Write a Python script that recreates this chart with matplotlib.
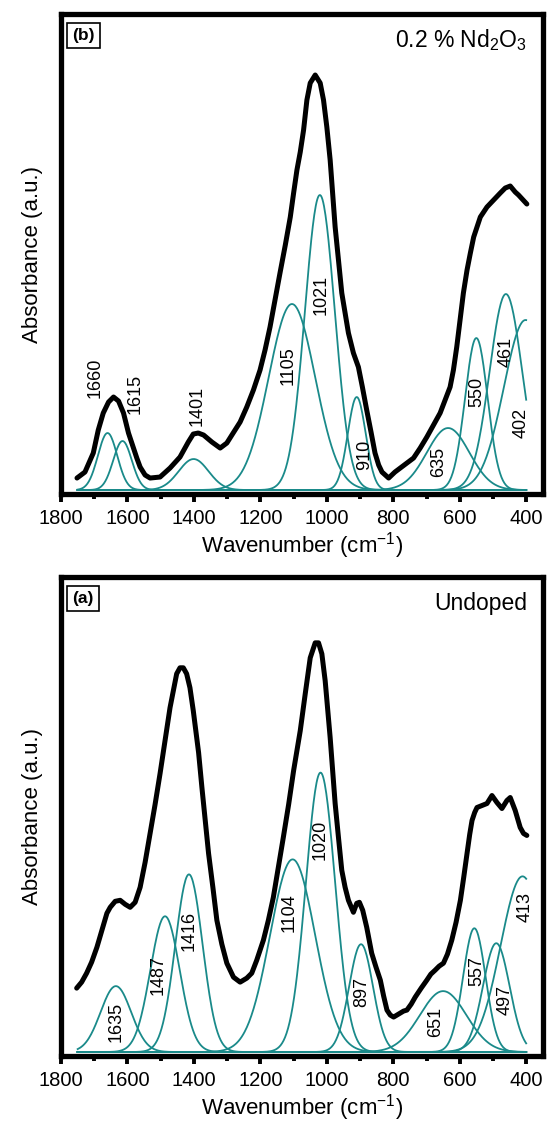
import matplotlib
matplotlib.use("Agg")
import matplotlib.pyplot as plt
from matplotlib.ticker import MultipleLocator
import numpy as np

plt.rcParams['font.family'] = ['Liberation Sans', 'DejaVu Sans']
plt.rcParams['mathtext.fontset'] = 'custom'
plt.rcParams['mathtext.rm'] = 'Liberation Sans'
plt.rcParams['mathtext.it'] = 'Liberation Sans:italic'

teal = "#1a8a8a"

# ---- panel (b): 0.2 % Nd2O3 ----
wn_b = [1752, 1728, 1703, 1688, 1673, 1657, 1642, 1627, 1612, 1597, 1587, 1572,
        1562, 1547, 1532, 1502, 1472, 1442, 1417, 1402, 1387, 1371, 1346, 1321,
        1301, 1282, 1261, 1241, 1221, 1201, 1186, 1171, 1156, 1141, 1125, 1110,
        1100, 1090, 1080, 1070, 1060, 1050, 1035, 1020, 1010, 1000, 990, 975,
        955, 935, 920, 905, 893, 880, 867, 855, 844, 834, 814, 795, 779, 759,
        739, 719, 699, 679, 659, 644, 629, 619, 609, 599, 589, 578, 568, 558,
        548, 538, 518, 498, 478, 463, 448, 433, 423, 398]
abs_b = [12, 18, 37, 60, 77, 88, 93, 89, 77, 57, 47, 32,
         23, 15, 12, 13, 22, 33, 48, 56, 57, 55, 48, 42,
         47, 57, 68, 83, 100, 120, 140, 163, 190, 217, 245, 273,
         297, 320, 338, 360, 390, 407, 415, 407, 390, 363, 330, 263,
         197, 157, 137, 123, 103, 80, 58, 37, 25, 18, 12, 18, 22, 27,
         32, 42, 53, 65, 77, 90, 103, 120, 143, 170, 197, 220, 237, 253,
         263, 273, 283, 290, 297, 302, 304, 298, 295, 286]

peak_pos_b = [1660, 1615, 1401, 1105, 1021, 910, 635, 550, 461, 402]
peak_h_b = [57, 49, 31, 186, 295, 93, 62, 152, 196, 170]
peak_w_b = [29, 28, 45, 70, 45, 27, 64, 34, 49, 65]
labels_b = ["1660", "1615", "1401", "1105", "1021", "910", "635", "550", "461", "402"]
label_x_b = [1698, 1576, 1390, 1116, 1017, 887, 665, 550, 460, 415]
label_y_b = [112, 96, 84, 124, 195, 35, 28, 98, 138, 67]

# ---- panel (a): undoped ----
wn_a = [1753, 1738, 1723, 1708, 1692, 1677, 1662, 1652, 1637, 1622, 1607, 1592,
        1577, 1562, 1547, 1532, 1517, 1502, 1487, 1472, 1462, 1452, 1442, 1432,
        1422, 1412, 1402, 1386, 1376, 1366, 1356, 1343, 1331, 1316, 1301, 1281,
        1261, 1241, 1226, 1211, 1191, 1176, 1161, 1146, 1131, 1115, 1100, 1080,
        1065, 1050, 1035, 1025, 1015, 1005, 990, 975, 965, 955, 945, 935, 920,
        910, 902, 892, 880, 865, 852, 839, 829, 819, 809, 799, 789, 779, 769,
        759, 746, 734, 716, 699, 687, 674, 662, 649, 637, 624, 611, 598, 588,
        578, 570, 563, 555, 548, 533, 518, 503, 488, 473, 458, 448, 433, 418,
        408, 398]
abs_a = [64, 70, 79, 90, 105, 122, 139, 145, 151, 152, 148, 145,
         150, 165, 190, 219, 248, 279, 312, 345, 362, 379, 385, 385,
         379, 365, 342, 300, 265, 232, 199, 165, 132, 108, 89, 75,
         70, 74, 79, 92, 112, 132, 155, 185, 215, 248, 282, 322,
         359, 395, 410, 410, 399, 372, 315, 249, 215, 182, 165, 152, 140,
         149, 150, 142, 125, 99, 85, 72, 56, 42, 37, 35, 37, 39, 41,
         42, 48, 55, 64, 72, 78, 82, 86, 89, 98, 112, 130, 152, 175,
         199, 218, 232, 240, 245, 247, 249, 257, 250, 244, 252, 255, 242, 225,
         219, 217]

peak_pos_a = [1635, 1487, 1415, 1103, 1019, 897, 650, 556, 490, 411]
peak_h_a = [66, 136, 178, 193, 280, 108, 61, 124, 109, 176]
peak_w_a = [46, 44, 41, 68, 44, 36, 70, 34, 40, 66]
labels_a = ["1635", "1487", "1416", "1104", "1020", "897", "651", "557", "497", "413"]
label_x_a = [1634, 1508, 1415, 1113, 1020, 894, 674, 550, 463, 404]
label_y_a = [30, 77, 121, 140, 213, 60, 30, 81, 52, 145]

fit_x = np.linspace(1750, 400, 600)


def draw_panel(ax, wn, absb, pos, h, w, labels, lx, ly, tag, title):
    for c, a, s in zip(pos, h, w):
        ax.plot(fit_x, a * np.exp(-(fit_x - c) ** 2 / (2 * s ** 2)), color=teal, lw=1.3)
    ax.plot(wn, absb, color="black", lw=3.6, solid_joinstyle="round", solid_capstyle="round")
    for t, x, y in zip(labels, lx, ly):
        ax.text(x, y, t, rotation=90, ha="center", va="center", fontsize=13)
    ax.set_xlim(1800, 350)
    ax.set_ylim(-4, 476)
    ax.set_yticks([])
    ax.xaxis.set_major_locator(MultipleLocator(200))
    ax.xaxis.set_minor_locator(MultipleLocator(100))
    ax.tick_params(axis="x", which="major", direction="out", length=5.5, width=2.8,
                   labelsize=14.5, pad=5)
    ax.tick_params(axis="x", which="minor", direction="out", length=3.5, width=2.8)
    for sp in ax.spines.values():
        sp.set_linewidth(3.8)
    ax.set_xlabel("Wavenumber (cm$^{-1}$)", fontsize=16, labelpad=2)
    ax.set_ylabel("Absorbance (a.u.)", fontsize=16)
    ax.yaxis.set_label_coords(-0.037, 0.5)
    ax.text(0.046, 0.955, tag, transform=ax.transAxes, ha="center", va="center",
            fontsize=12.5, fontweight="bold",
            bbox=dict(boxstyle="square,pad=0.3", fc="white", ec="black", lw=1.2))
    ax.text(0.967, 0.945, title, transform=ax.transAxes, ha="right", va="center",
            fontsize=16.5)


fig = plt.figure(figsize=(5.55, 11.3), dpi=100)
ax_b = fig.add_axes([0.110, 0.5628, 0.868, 0.4248])
ax_a = fig.add_axes([0.110, 0.0655, 0.868, 0.4239])

draw_panel(ax_b, wn_b, abs_b, peak_pos_b, peak_h_b, peak_w_b, labels_b,
           label_x_b, label_y_b, "(b)", "0.2 % Nd$_2$O$_3$")
draw_panel(ax_a, wn_a, abs_a, peak_pos_a, peak_h_a, peak_w_a, labels_a,
           label_x_a, label_y_a, "(a)", "Undoped")

fig.savefig("out.png", dpi=100)
